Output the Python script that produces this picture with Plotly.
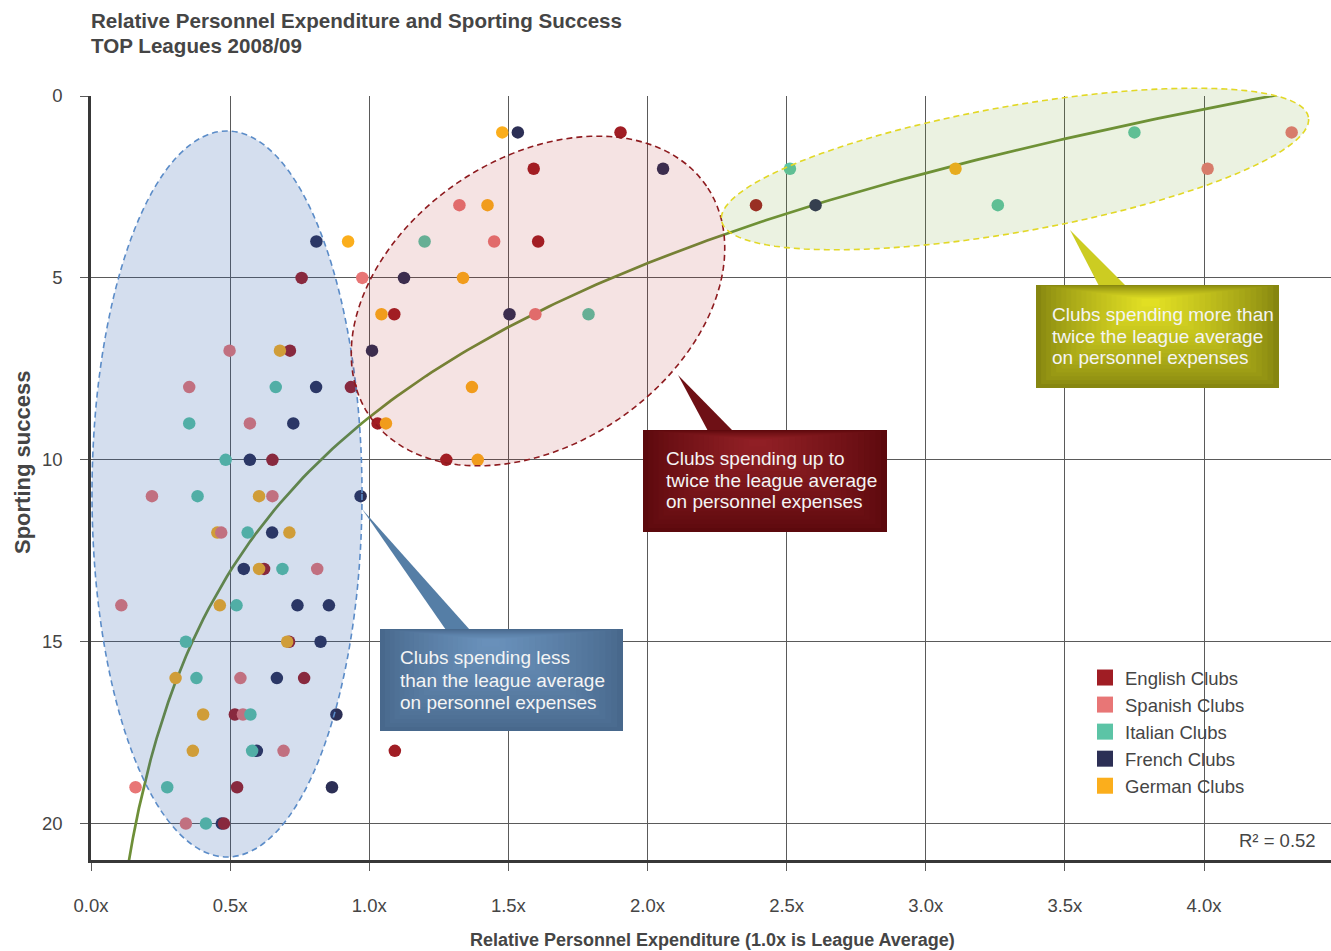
import numpy as np
import plotly.graph_objects as go

# ---------------- data ----------------
english_x = [1.903, 1.591, 2.390, 1.607, 0.757, 1.090, 0.715, 0.934, 1.030, 0.652,
             1.277, 0.622, 0.712, 0.766, 0.517, 1.092, 0.525, 0.478]
english_y = [1, 2, 3, 4, 5, 6, 7, 8, 9, 10, 10, 13, 15, 16, 17, 18, 19, 20]

spanish_x = [4.315, 4.013, 1.324, 1.449, 0.975, 1.597, 0.498, 0.353, 0.571, 0.219,
             0.652, 0.468, 0.813, 0.109, 0.537, 0.546, 0.692, 0.160, 0.341]
spanish_y = [1, 2, 3, 4, 5, 6, 7, 8, 9, 11, 11, 12, 13, 14, 16, 17, 18, 19, 20]

italian_x = [3.750, 2.512, 3.259, 1.199, 1.788, 0.664, 0.353, 0.484, 0.383, 0.563,
             0.688, 0.523, 0.341, 0.379, 0.573, 0.579, 0.274, 0.413]
italian_y = [1, 2, 3, 4, 6, 8, 9, 10, 11, 12, 13, 14, 15, 16, 17, 18, 19, 20]

french_x = [1.534, 2.056, 2.604, 0.810, 1.125, 1.504, 1.010, 0.809, 0.727, 0.571,
            0.969, 0.651, 0.549, 0.742, 0.855, 0.825, 0.668, 0.882, 0.596, 0.866, 0.470]
french_y = [1, 2, 3, 4, 5, 6, 7, 8, 9, 10, 11, 12, 13, 14, 14, 15, 16, 17, 18, 19, 20]

german_x = [1.478, 3.107, 1.425, 0.924, 1.337, 1.044, 0.679, 1.369, 1.060, 1.390,
            0.604, 0.454, 0.713, 0.604, 0.463, 0.705, 0.304, 0.403, 0.366]
german_y = [1, 2, 3, 4, 5, 6, 7, 8, 9, 10, 11, 12, 12, 13, 14, 15, 16, 17, 18]

league_names = ["English Clubs", "Spanish Clubs", "Italian Clubs", "French Clubs", "German Clubs"]

x_tick_values = [0.0, 0.5, 1.0, 1.5, 2.0, 2.5, 3.0, 3.5, 4.0]
x_tick_labels = ["0.0x", "0.5x", "1.0x", "1.5x", "2.0x", "2.5x", "3.0x", "3.5x", "4.0x"]
y_tick_values = [0, 5, 10, 15, 20]

# logarithmic trend line: y = a + b*ln(x)
trend_intercept = 8.83
trend_slope = -6.11
trend_x_start = 0.13
trend_x_end = 4.32
r_squared = 0.52

# ---------------- styling ----------------
COLORS = {
    "English Clubs": "#a01d24",
    "Spanish Clubs": "#e87676",
    "Italian Clubs": "#5cc4a6",
    "French Clubs": "#2c2f55",
    "German Clubs": "#fbae1c",
}
FONT = "Liberation Sans, Arial, Helvetica, sans-serif"
TXT = "#454545"

W, H = 1331, 951
PL, PR, PT, PB = 91, 1331, 96, 860   # plot area in pixels


def pxp(px, py):
    """pixel -> paper coordinates"""
    return (px - PL) / (PR - PL), (PB - py) / (PB - PT)


def ellipse_path(cx, cy, a, b, ang_deg, n=120):
    th = np.deg2rad(ang_deg)
    pts = []
    for t in np.linspace(0, 2 * np.pi, n, endpoint=False):
        px = cx + a * np.cos(t) * np.cos(th) - b * np.sin(t) * np.sin(th)
        py = cy - (a * np.cos(t) * np.sin(th) + b * np.sin(t) * np.cos(th))
        x, y = pxp(px, py)
        pts.append(f"{x:.5f},{y:.5f}")
    return "M " + " L ".join(pts) + " Z"


def poly_path(points):
    pts = []
    for px, py in points:
        x, y = pxp(px, py)
        pts.append(f"{x:.5f},{y:.5f}")
    return "M " + " L ".join(pts) + " Z"


def mix(c1, c2, t):
    return "rgb(%d,%d,%d)" % tuple(round(c1[i] + (c2[i] - c1[i]) * t) for i in range(3))


def gradient_box(x0, y0, x1, y1, fx, fy, edge, center, n=22):
    out = []
    for k in range(n):
        t = k / n
        s = 1 - t * 0.97
        bx0, bx1 = fx + (x0 - fx) * s, fx + (x1 - fx) * s
        by0, by1 = fy + (y0 - fy) * s, fy + (y1 - fy) * s
        p0 = pxp(bx0, by1)
        p1 = pxp(bx1, by0)
        out.append(dict(type="rect", xref="paper", yref="paper",
                        x0=p0[0], y0=p0[1], x1=p1[0], y1=p1[1],
                        fillcolor=mix(edge, center, t ** 0.8), line=dict(width=0),
                        layer="above"))
    return out


fig = go.Figure()

# trend line
tx = np.linspace(trend_x_start, trend_x_end, 200)
ty = trend_intercept + trend_slope * np.log(tx)
fig.add_trace(go.Scatter(x=tx, y=ty, mode="lines", line=dict(color="#6e8f38", width=2.7),
                         showlegend=False, hoverinfo="skip"))

series = {
    "French Clubs": (french_x, french_y),
    "English Clubs": (english_x, english_y),
    "German Clubs": (german_x, german_y),
    "Spanish Clubs": (spanish_x, spanish_y),
    "Italian Clubs": (italian_x, italian_y),
}
for name, (xs, ys) in series.items():
    fig.add_trace(go.Scatter(x=xs, y=ys, mode="markers", name=name,
                             marker=dict(color=COLORS[name], size=12.5, line=dict(width=0)),
                             showlegend=False))

# legend entries (square symbols)
for name in league_names:
    fig.add_trace(go.Scatter(x=[None], y=[None], mode="markers", name=name,
                             marker=dict(color=COLORS[name], size=16, symbol="square"),
                             showlegend=True))

shapes = []
# blue ellipse (axis aligned)
p0 = pxp(92, 857)
p1 = pxp(362, 131)
shapes.append(dict(type="circle", xref="paper", yref="paper", x0=p0[0], y0=p0[1], x1=p1[0], y1=p1[1],
                   fillcolor="rgba(42,92,170,0.2)",
                   line=dict(color="#5b8cc8", width=1.6, dash="6px,4px"), layer="above"))
# red ellipse
shapes.append(dict(type="path", xref="paper", yref="paper", path=ellipse_path(538, 301, 204, 143, 34.3),
                   fillcolor="rgba(178,34,34,0.125)",
                   line=dict(color="#8e1b1f", width=1.6, dash="6px,4px"), layer="above"))
# green ellipse
shapes.append(dict(type="path", xref="paper", yref="paper", path=ellipse_path(1015, 169, 298, 63, 10),
                   fillcolor="rgba(110,160,40,0.14)",
                   line=dict(color="#e2d826", width=1.6, dash="6px,4px"), layer="above"))

# callouts: pointers + gradient boxes
shapes.append(dict(type="path", xref="paper", yref="paper",
                   path=poly_path([(362, 509), (446, 630), (470, 630)]),
                   fillcolor="#557ea6", line=dict(width=0), layer="above"))
shapes += gradient_box(380, 629, 623, 731, 490, 640, (72, 104, 140), (106, 146, 188))

shapes.append(dict(type="path", xref="paper", yref="paper",
                   path=poly_path([(678, 375), (708, 431), (733, 431)]),
                   fillcolor="#6e1015", line=dict(width=0), layer="above"))
shapes += gradient_box(643, 430, 887, 532, 757, 440, (92, 9, 13), (146, 32, 38))

shapes.append(dict(type="path", xref="paper", yref="paper",
                   path=poly_path([(1070, 230), (1099, 286), (1126, 286)]),
                   fillcolor="#cccc22", line=dict(width=0), layer="above"))
shapes += gradient_box(1036, 285, 1279, 388, 1150, 300, (134, 134, 16), (228, 226, 36))

annotations = []


def add_lines(lines, px, pys, size=19, color="#f4f4f4", bold=False):
    for text, py in zip(lines, pys):
        x, y = pxp(px, py)
        annotations.append(dict(text=f"<b>{text}</b>" if bold else text, x=x, y=y,
                                xref="paper", yref="paper",
                                xanchor="left", yanchor="middle", showarrow=False,
                                font=dict(family=FONT, size=size, color=color)))


add_lines(["Clubs spending less", "than the league average", "on personnel expenses"],
          398, [657, 680, 702])
add_lines(["Clubs spending up to", "twice the league average", "on personnel expenses"],
          664, [458, 480, 502])
add_lines(["Clubs spending more than", "twice the league average", "on personnel expenses"],
          1050, [314, 336, 358])

# title (two lines)
add_lines(["Relative Personnel Expenditure and Sporting Success", "TOP Leagues 2008/09"],
          89, [20, 45], size=20.6, color=TXT, bold=True)

# R squared
x, y = pxp(1318, 840)
annotations.append(dict(text=f"R² = {r_squared:.2f}", x=x, y=y, xref="paper", yref="paper",
                        xanchor="right", yanchor="middle", showarrow=False,
                        font=dict(family=FONT, size=18.5, color=TXT)))
# axis titles
x, y = pxp(712, 940)
annotations.append(dict(text="<b>Relative Personnel Expenditure (1.0x is League Average)</b>",
                        x=x, y=y, xref="paper", yref="paper", xanchor="center", yanchor="middle",
                        showarrow=False, font=dict(family=FONT, size=18, color=TXT)))
x, y = pxp(22, 463)
annotations.append(dict(text="<b>Sporting success</b>", x=x, y=y, xref="paper", yref="paper",
                        xanchor="center", yanchor="middle", textangle=-90,
                        showarrow=False, font=dict(family=FONT, size=22, color=TXT)))

lx, ly = pxp(1085, 659)

fig.update_layout(
    width=W, height=H,
    margin=dict(l=PL, r=W - PR, t=PT, b=H - PB, pad=0),
    paper_bgcolor="white", plot_bgcolor="white",
    font=dict(family=FONT, size=18.5, color=TXT),
    xaxis=dict(range=[0, (PR - PL) / 278.25], tickvals=x_tick_values, ticktext=x_tick_labels,
               showgrid=True, gridcolor="#5a5a5a", gridwidth=1.4, zeroline=False,
               showline=True, linecolor="#383838", linewidth=3,
               ticks="outside", ticklen=8, tickcolor="#5a5a5a", tickwidth=1.4,
               ticklabelstandoff=19, tickfont=dict(family=FONT, size=18.5, color=TXT)),
    yaxis=dict(range=[21, 0], tickvals=y_tick_values,
               showgrid=True, gridcolor="#5a5a5a", gridwidth=1.4, zeroline=False,
               showline=True, linecolor="#383838", linewidth=2.5,
               ticks="outside", ticklen=8, tickcolor="#5a5a5a", tickwidth=1.4,
               ticklabelstandoff=14, tickfont=dict(family=FONT, size=18.5, color=TXT)),
    legend=dict(x=lx, y=ly, xanchor="left", yanchor="top", bgcolor="rgba(0,0,0,0)",
                borderwidth=0, font=dict(family=FONT, size=18.5, color=TXT),
                tracegroupgap=0, itemwidth=30),
    shapes=shapes,
    annotations=annotations,
)

fig.write_html("out.html", config={"displayModeBar": False},
               post_script="document.body.style.margin='0px';document.body.style.overflow='hidden';")
